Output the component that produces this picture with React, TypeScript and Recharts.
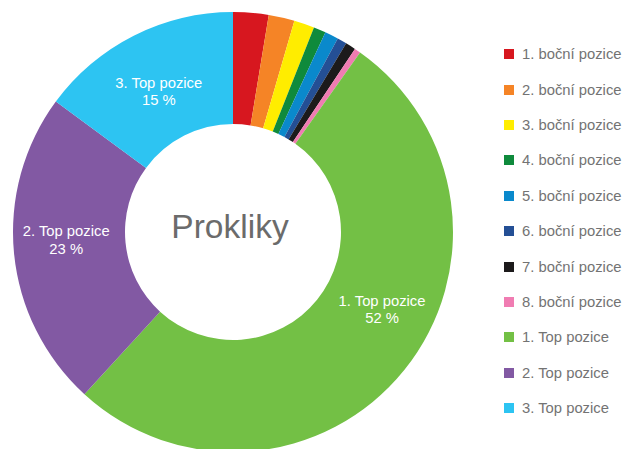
import { PieChart, Pie, Cell, Legend } from "recharts";

const categories = [
  "1. boční pozice",
  "2. boční pozice",
  "3. boční pozice",
  "4. boční pozice",
  "5. boční pozice",
  "6. boční pozice",
  "7. boční pozice",
  "8. boční pozice",
  "1. Top pozice",
  "2. Top pozice",
  "3. Top pozice",
];

const values = [2.6, 1.9, 1.5, 0.9, 1.0, 0.7, 0.75, 0.45, 52, 23.3, 14.9];

const colors = [
  "#d7171f",
  "#f58426",
  "#ffed00",
  "#0f8a3c",
  "#0a89cc",
  "#244f95",
  "#1c1a1b",
  "#f07cb2",
  "#73c045",
  "#8259a3",
  "#2dc4f2",
];

// which slices carry an inside label, and how the label sits (angle shift cw, radius)
const labelPlacement: Record<string, { shift: number; r: number }> = {
  "1. Top pozice": { shift: -11.4, r: 168 },
  "2. Top pozice": { shift: 2.8, r: 167 },
  "3. Top pozice": { shift: -1, r: 159 },
};

const data = categories.map((name, i) => ({ name, value: values[i] }));

const FONT = "'Helvetica Neue', Helvetica, Arial, 'Liberation Sans', sans-serif";
const RAD = Math.PI / 180;

function SliceLabel(props: any) {
  const { cx, cy, midAngle, percent, name } = props;
  const place = labelPlacement[name];
  if (!place) return null;
  const a = (midAngle - place.shift) * RAD;
  const x = cx + place.r * Math.cos(-a);
  const y = cy + place.r * Math.sin(-a);
  return (
    <g>
      <text
        x={x}
        y={y - 8.7}
        fill="#ffffff"
        textAnchor="middle"
        dominantBaseline="central"
        style={{ fontFamily: FONT, fontSize: 14.8 }}
      >
        {name}
      </text>
      <text
        x={x}
        y={y + 8.7}
        fill="#ffffff"
        textAnchor="middle"
        dominantBaseline="central"
        style={{ fontFamily: FONT, fontSize: 14.8 }}
      >
        {`${Math.round(percent * 100)} %`}
      </text>
    </g>
  );
}

function LegendList() {
  return (
    <div style={{ fontFamily: FONT }}>
      {categories.map((name, i) => (
        <div
          key={name}
          style={{
            display: "flex",
            alignItems: "center",
            height: 35.4,
          }}
        >
          <span
            style={{
              display: "inline-block",
              width: 10,
              height: 10,
              background: colors[i],
              marginRight: 8,
            }}
          />
          <span style={{ fontSize: 14.8, color: "#737373", whiteSpace: "nowrap" }}>{name}</span>
        </div>
      ))}
    </div>
  );
}

export default function App() {
  return (
    <div style={{ position: "absolute", left: 0, top: 0, width: 630, height: 449, background: "#fff" }}>
      <PieChart width={630} height={449} margin={{ top: 0, right: 0, bottom: 0, left: 0 }}>
        <Pie
          data={data}
          dataKey="value"
          nameKey="name"
          cx={233}
          cy={232}
          innerRadius={108}
          outerRadius={220}
          startAngle={90}
          endAngle={-270}
          stroke="none"
          label={SliceLabel}
          labelLine={false}
          isAnimationActive={false}
        >
          {data.map((d, i) => (
            <Cell key={d.name} fill={colors[i]} />
          ))}
        </Pie>
        <text
          x={230}
          y={238}
          textAnchor="middle"
          fill="#6b6b6b"
          style={{ fontFamily: FONT, fontSize: 33.5 }}
        >
          Prokliky
        </text>
        <Legend
          layout="vertical"
          verticalAlign="top"
          align="right"
          content={() => <LegendList />}
          wrapperStyle={{ left: 504, top: 36.5, width: 130 }}
        />
      </PieChart>
    </div>
  );
}
